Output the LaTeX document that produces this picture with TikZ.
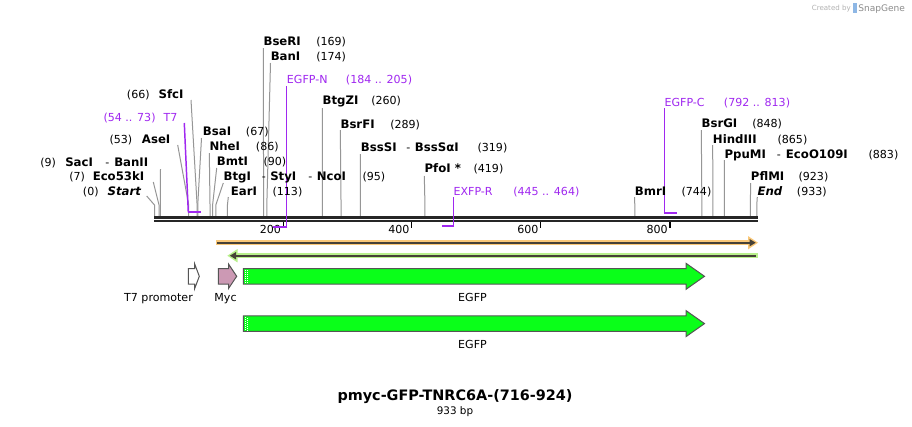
\documentclass[tikz,border=0pt]{standalone}
\usepackage{fontspec}
\setmainfont{DejaVu Sans}
\definecolor{prim}{RGB}{160,40,240}
\definecolor{leadc}{RGB}{150,150,150}
\definecolor{orng}{RGB}{250,200,120}
\definecolor{lgrn}{RGB}{185,240,140}
\definecolor{egfpc}{RGB}{10,255,25}
\definecolor{mycc}{RGB}{204,153,180}
\definecolor{darkc}{RGB}{70,65,55}
\definecolor{outl}{RGB}{85,85,85}
\newcommand\bpx[1]{154.5+0.6455*#1}
\newcommand\leadr[3]{\draw[leadline] (#1,#2) -- ({\bpx{#3}},205) -- ({\bpx{#3}},216);}
\begin{document}
\begin{tikzpicture}[x=0.75pt,y=-0.75pt,
  lbl/.style={anchor=base west, inner sep=0pt, font=\fontsize{8.3}{10}\selectfont},
  enz/.style={lbl, font=\fontsize{8.8}{10}\selectfont\bfseries},
  enzi/.style={lbl, font=\fontsize{8.8}{10}\selectfont\bfseries\itshape},
  plbl/.style={lbl, text=prim},
  leadline/.style={draw=leadc, line width=0.75pt},
  primline/.style={draw=prim, line width=1.1pt},
  primbar/.style={draw=prim, line width=1.5pt},
  featlbl/.style={anchor=base, inner sep=0pt, font=\fontsize{8.3}{10}\selectfont},
  feat/.style={draw=outl, line width=0.75pt},
  tick/.style={draw=black, line width=1.1pt}]
\useasboundingbox (0,0) rectangle (912,426);
\fill[white] (0,0) rectangle (912,426);

% credit
\node[anchor=base east, inner sep=0pt, text=black!30, font=\fontsize{5.3}{6}\selectfont] (cr) at (851,10) {Created by};
\fill[cyan!60!blue!45] (853,3) rectangle (856.5,13);
\node[anchor=base west, inner sep=0pt, text=black!45, font=\fontsize{6.8}{8}\selectfont] (sg) at (858,11) {SnapGene};

% leader lines
\leadr{263.3}{48}{169}
\leadr{270.5}{63}{174}
\leadr{191}{100}{66}
\leadr{177.7}{145}{53}
\leadr{160.5}{169}{9}
\leadr{153.3}{182}{7}
\leadr{146.7}{196}{0}
\leadr{201.5}{138}{67}
\leadr{209.3}{153}{86}
\leadr{216.7}{168}{90}
\leadr{223.3}{183}{95}
\leadr{228.3}{197}{113}
\leadr{322.3}{108}{260}
\leadr{340.3}{130}{289}
\leadr{360.3}{154}{319}
\leadr{424.3}{176}{419}
\leadr{634.7}{197}{744}
\leadr{701.3}{130}{848}
\leadr{712.7}{145}{865}
\leadr{724.3}{160}{883}
\leadr{750.7}{183}{923}
\leadr{757.3}{197}{933}

% main sequence line
\draw[line width=2.0pt, black!85] (154,217.7) -- (757.5,217.7);
\draw[line width=1.5pt, black!85] (154,221.3) -- (757.5,221.3);

% ticks
\foreach \tx/\tl in {283.3/200, 411.7/400, 540.7/600, 670/800}{
  \draw[tick] (\tx,222) -- (\tx,228);
  \node[anchor=base east, inner sep=0pt, font=\fontsize{8.3}{10}\selectfont] at (\tx-2,233.5) {\tl};
}

% primers
\draw[primline] (184.3,123) -- (188.3,212.3);
\draw[primbar] (187.6,212.3) -- (200.7,212.3);
\draw[primline] (286.7,86) -- (286.7,226.5);
\draw[primbar] (287.4,226.5) -- (273.3,226.5);
\draw[primline] (453.3,197) -- (453.3,226);
\draw[primbar] (454,226) -- (441.7,226);
\draw[primline] (664.3,108) -- (664.3,212.7);
\draw[primbar] (663.6,212.7) -- (677.3,212.7);

% labels
\node[enz] (bseri) at (263.3,45.7) {BseRI};
\node[lbl] (bseriP) at (316,45.7) {(169)};
\node[enz] (bani) at (270.5,60.7) {BanI};
\node[lbl] (baniP) at (316,60.7) {(174)};
\node[plbl] (egfpn) at (286.7,83) {EGFP-N};
\node[plbl] (egfpnP) at (345.7,83) {(184 .. 205)};
\node[lbl] (sfciP) at (126.7,98) {(66)};
\node[enz] (sfci) at (158.3,98) {SfcI};
\node[enz] (btgzi) at (322.3,104.3) {BtgZI};
\node[lbl] (btgziP) at (371,104.3) {(260)};
\node[plbl] (egfpc) at (664.3,106.3) {EGFP-C};
\node[plbl] (egfpcP) at (723.7,106.3) {(792 .. 813)};
\node[plbl] (t7P) at (103.3,121.3) {(54 .. 73)};
\node[plbl] (t7) at (163.3,121.3) {T7};
\node[enz] (bsrfi) at (340.3,128) {BsrFI};
\node[lbl] (bsrfiP) at (390,128) {(289)};
\node[enz] (bsrgi) at (701.3,127.3) {BsrGI};
\node[lbl] (bsrgiP) at (752,127.3) {(848)};
\node[enz] (bsai) at (202.7,135.7) {BsaI};
\node[lbl] (bsaiP) at (245.7,135.7) {(67)};
\node[lbl] (aseiP) at (109.3,143) {(53)};
\node[enz] (asei) at (141.7,143) {AseI};
\node[enz] (hind) at (712.7,143) {HindIII};
\node[lbl] (hindP) at (777.3,143) {(865)};
\node[enz] (bsssi) at (360.7,151.3) {BssSI};
\node[lbl] (bsssiD) at (406,151.3) {-};
\node[enz] (bsssa) at (414.7,151.3) {BssSαI};
\node[lbl] (bsssiP) at (477.3,151.3) {(319)};
\node[enz] (nhei) at (209.3,150) {NheI};
\node[lbl] (nheiP) at (255.7,150) {(86)};
\node[enz] (ppumi) at (724.3,158) {PpuMI};
\node[lbl] (ppumiD) at (776.5,158) {-};
\node[enz] (eco109) at (785.7,158) {EcoO109I};
\node[lbl] (ppumiP) at (868.3,158) {(883)};
\node[lbl] (saciP) at (40,166.3) {(9)};
\node[enz] (saci) at (65,166.3) {SacI};
\node[lbl] (saciD) at (105,166.3) {-};
\node[enz] (banii) at (114,166.3) {BanII};
\node[enz] (bmti) at (216.7,165.7) {BmtI};
\node[lbl] (bmtiP) at (263.3,165.7) {(90)};
\node[enz] (pfoi) at (424.3,172.7) {PfoI *};
\node[lbl] (pfoiP) at (473.3,172.7) {(419)};
\node[lbl] (ecoP) at (69,180.7) {(7)};
\node[enz] (eco53) at (92.5,180.7) {Eco53kI};
\node[enz] (btgi) at (223.3,180.7) {BtgI};
\node[lbl] (btgiD) at (261.5,180.7) {-};
\node[enz] (styi) at (270,180.7) {StyI};
\node[lbl] (styiD) at (308,180.7) {-};
\node[enz] (ncoi) at (316.5,180.7) {NcoI};
\node[lbl] (ncoiP) at (362.3,180.7) {(95)};
\node[enz] (pflmi) at (750.7,180.7) {PflMI};
\node[lbl] (pflmiP) at (798.3,180.7) {(923)};
\node[lbl] (startP) at (82.7,195.7) {(0)};
\node[enzi] (start) at (107.3,195.7) {Start};
\node[enz] (eari) at (230.7,195.7) {EarI};
\node[lbl] (eariP) at (272.3,195.7) {(113)};
\node[plbl] (exfpr) at (453.3,195.7) {EXFP-R};
\node[plbl] (exfprP) at (513,195.7) {(445 .. 464)};
\node[enz] (bmri) at (634.7,195.3) {BmrI};
\node[lbl] (bmriP) at (681.3,195.3) {(744)};
\node[enzi] (endl) at (757.3,195.3) {End};
\node[lbl] (endP) at (796.7,195.3) {(933)};

% ORF lines
\draw[orng, line width=3.8pt] (216,242.7) -- (750,242.7);
\fill[orng] (748,236) -- (758,242.7) -- (748,249.4) -- cycle;
\draw[darkc, line width=1.5pt] (217,242.7) -- (751,242.7);
\fill[darkc] (749.5,239) -- (755.7,242.7) -- (749.5,246.4) -- cycle;

\draw[lgrn, line width=3.8pt] (235,255.7) -- (757.5,255.7);
\fill[lgrn] (227.3,255.7) -- (237.5,249) -- (237.5,262.4) -- cycle;
\draw[darkc, line width=1.5pt] (234,255.7) -- (756,255.7);
\fill[darkc] (229.8,255.7) -- (236,252) -- (236,259.4) -- cycle;

% features
\draw[feat, fill=white] (188.3,268.5) -- (194.7,268.5) -- (194.7,264) -- (199.3,276.3) -- (194.7,288.5) -- (194.7,284) -- (188.3,284) -- cycle;
\node[featlbl] (t7prom) at (158.5,301) {T7 promoter};
\draw[feat, fill=mycc] (218.3,268.5) -- (228.5,268.5) -- (228.5,264) -- (236.7,276.3) -- (228.5,288.5) -- (228.5,284) -- (218.3,284) -- cycle;
\node[featlbl] (mycl) at (225.5,301) {Myc};
\foreach \dy/\nm in {0/egfpA, 47.3/egfpB}{
  \draw[feat, fill=egfpc] (243.3,268.5+\dy) -- (686,268.5+\dy) -- (686,263.3+\dy) -- (704.5,276.3+\dy) -- (686,289.3+\dy) -- (686,284+\dy) -- (243.3,284+\dy) -- cycle;
  \draw[white, line width=0.6pt, dash pattern=on 0.75pt off 0.75pt] (245.3,269.5+\dy) -- (245.3,283+\dy);
  \draw[white, line width=0.6pt, dash pattern=on 0.75pt off 0.75pt] (247.3,270.2+\dy) -- (247.3,283+\dy);
  \node[featlbl] (\nm) at (472.5,301+\dy) {EGFP};
}

% title
\node[anchor=base, inner sep=0pt, font=\fontsize{10.8}{13}\selectfont\bfseries] (title) at (455,400) {pmyc-GFP-TNRC6A-(716-924)};
\node[anchor=base, inner sep=0pt, font=\fontsize{7.8}{9}\selectfont] (size) at (455,414) {933 bp};
\end{tikzpicture}
\end{document}
